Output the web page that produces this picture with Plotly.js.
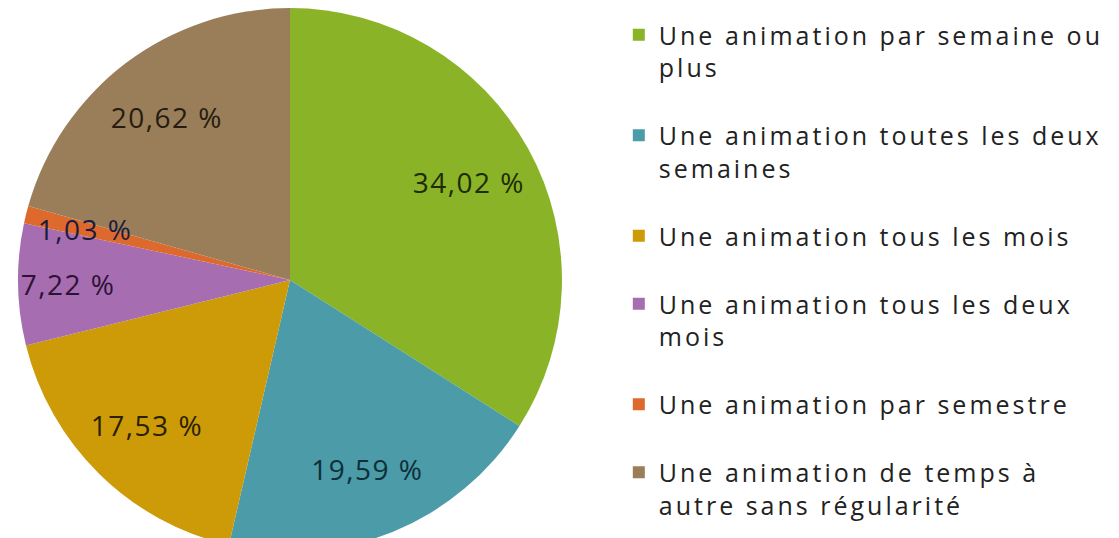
<!DOCTYPE html>
<html>
<head>
<meta charset="utf-8">
<script src="https://cdn.plot.ly/plotly-3.0.1.min.js"></script>
<style>
  html, body { margin: 0; padding: 0; background: #fff; overflow: hidden; }
  #plot { width: 1119px; height: 560px; }
  /* the original text is set quite loose (not scoped, so plotly measures it too) */
  .legendtext { letter-spacing: 3px; }
  .slicetext text { letter-spacing: 1.5px; }
</style>
</head>
<body>
<div id="plot"></div>
<script>
// frequency of the activities (share of answers, in %)
var categories = [
  "Une animation par semaine ou<br>plus",
  "Une animation toutes les deux<br>semaines",
  "Une animation tous les mois",
  "Une animation tous les deux<br>mois",
  "Une animation par semestre",
  "Une animation de temps à<br>autre sans régularité"
];
var shares = [34.02, 19.59, 17.53, 7.22, 1.03, 20.62];

var sliceColors = ["#8ab327", "#4b9ba9", "#cc9b07", "#a66db1", "#dd6a2c", "#9a7e5a"];
var labelColors = ["#1e2b06", "#0e2f38", "#2b1f03", "#2e1235", "#1d1b3d", "#261c10"];

// labels written the french way: 34,02 %
var labelText = shares.map(function (v) {
  return v.toFixed(2).replace(".", ",") + " %";
});
var smallSlice = 4; // "par semestre", too thin for plotly to label it the normal way

// blank line under every entry to space the legend like the original
var legendNames = categories.map(function (c) { return c + "<br> "; });
var clear = shares.map(function () { return "rgba(0,0,0,0)"; });

// full pie, carries the legend
var trace1 = {
  type: "pie",
  labels: legendNames,
  values: shares,
  textinfo: "none",
  marker: { colors: sliceColors, line: { width: 0 } },
  sort: false,
  direction: "clockwise",
  rotation: 0,
  domain: { x: [0.0161, 0.5022], y: [0.0143, 0.9857] }
};

// invisible ring over it: pushes the % labels out from the centre like Excel
var trace2 = {
  type: "pie",
  labels: legendNames,
  values: shares,
  hole: 0.5,
  text: labelText.map(function (t, i) { return i === smallSlice ? "" : t; }),
  textinfo: "text",
  textposition: "inside",
  insidetextorientation: "horizontal",
  textfont: { family: "Open Sans", size: 28, color: labelColors },
  marker: { colors: clear, line: { width: 0 } },
  sort: false,
  direction: "clockwise",
  rotation: 0,
  showlegend: false,
  domain: { x: [0.0161, 0.5022], y: [0.0143, 0.9857] }
};

// smaller thin invisible ring, only for the 1,03 % label (else it sits on the rim)
var trace3 = {
  type: "pie",
  labels: legendNames,
  values: shares,
  hole: 0.9,
  text: labelText.map(function (t, i) { return i === smallSlice ? t : ""; }),
  textinfo: "text",
  textposition: "inside",
  insidetextorientation: "horizontal",
  textfont: { family: "Open Sans", size: 28, color: labelColors },
  marker: { colors: clear, line: { width: 0 } },
  sort: false,
  direction: "clockwise",
  rotation: 0,
  showlegend: false,
  domain: { x: [0.0643, 0.4540], y: [0.1107, 0.8893] }
};

var layout = {
  width: 1119,
  height: 560,
  margin: { l: 0, r: 0, t: 0, b: 0 },
  paper_bgcolor: "#fff",
  showlegend: true,
  uniformtext: { mode: "show", minsize: 28 },
  legend: {
    x: 0.553, xanchor: "left",
    y: 0.961, yanchor: "top",
    valign: "top",
    font: { family: "Open Sans", size: 25, color: "#222" },
    bgcolor: "rgba(0,0,0,0)"
  }
};

Plotly.newPlot("plot", [trace1, trace2, trace3], layout, { displayModeBar: false, staticPlot: true });
</script>
</body>
</html>
